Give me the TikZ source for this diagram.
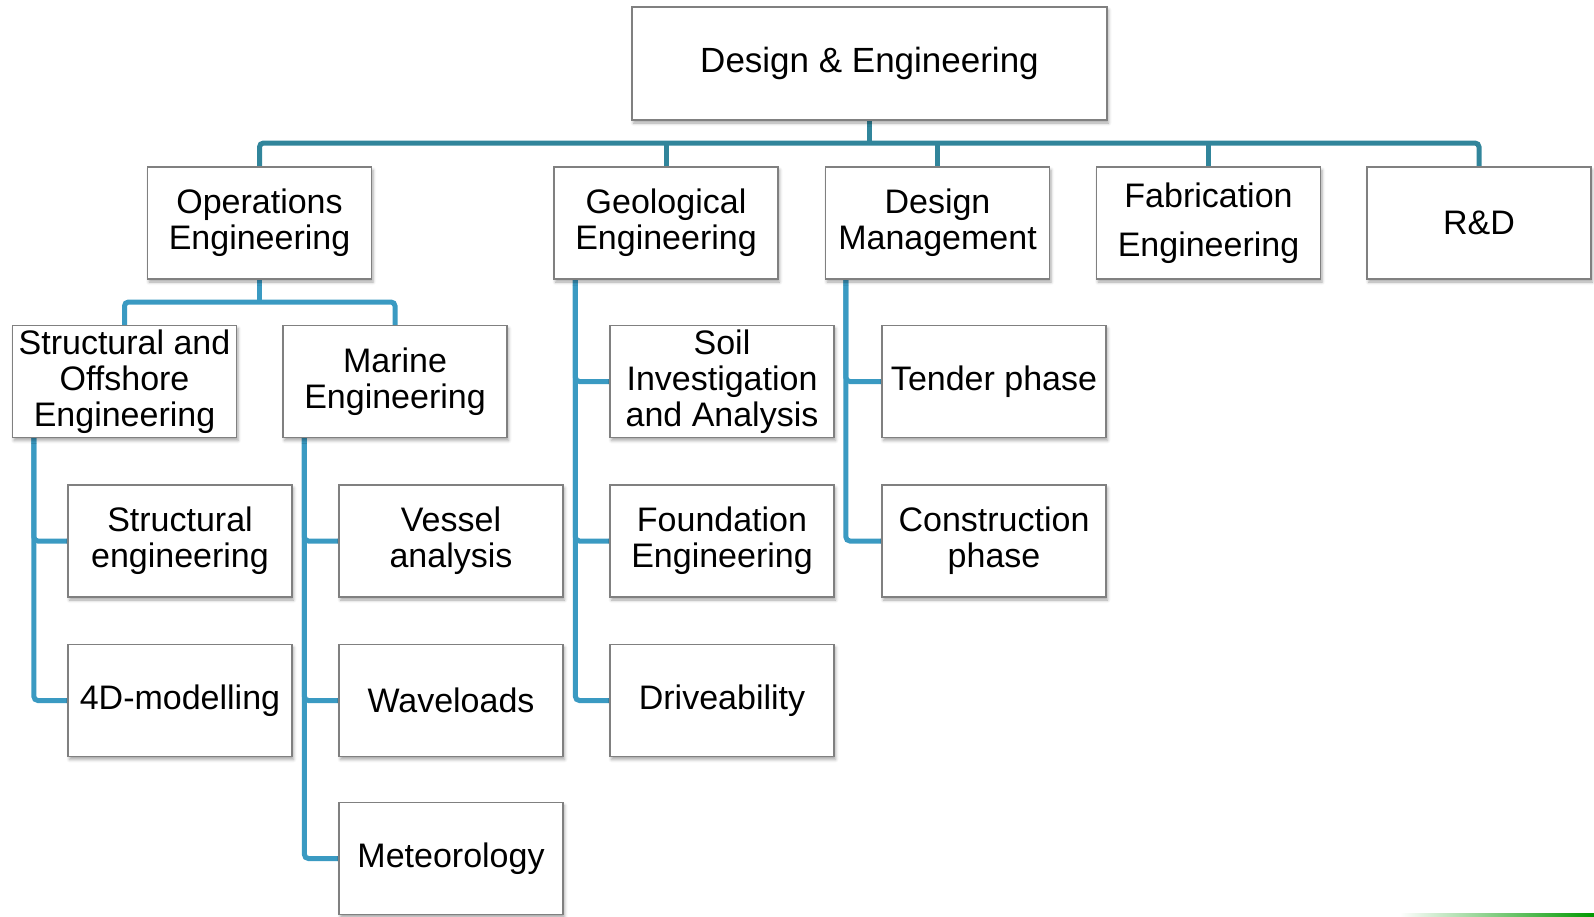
\documentclass[tikz,border=0pt]{standalone}
\usepackage{fontspec}
\setmainfont{Liberation Sans}
\usetikzlibrary{calc,backgrounds,shadows.blur}
\definecolor{bustop}{RGB}{49,133,155}
\definecolor{busleaf}{RGB}{58,154,194}
\definecolor{boxline}{RGB}{128,128,128}
\tikzset{
  orgbox/.style={draw=boxline, line width=1.2pt, fill=white,
    minimum width=224pt, minimum height=112pt, inner sep=0pt,
    align=center, font=\fontsize{34}{36}\selectfont,
    blur shadow={shadow xshift=1.5pt, shadow yshift=-3pt, shadow blur radius=3pt, shadow opacity=35}},
  topbox/.style={orgbox, minimum width=475pt, minimum height=113pt, font=\fontsize{35}{37}\selectfont},
  topline/.style={draw=bustop, line width=5pt, rounded corners=4pt},
  leafline/.style={draw=busleaf, line width=5pt, rounded corners=4pt}
}
\begin{document}
\begin{tikzpicture}[x=1pt,y=-1pt]
\useasboundingbox (0,0) rectangle (1594,916);
% nodes
\node[topbox] (top) at (869.5,63.5) {Design \& Engineering};
\node[orgbox] (ops) at (259.5,223) {Operations\\Engineering};
\node[orgbox] (geo) at (666,223) {Geological\\Engineering};
\node[orgbox] (dm) at (937.5,223) {Design\\Management};
\node[orgbox] (fab) at (1208.5,223) {Fabrication\\[13pt]Engineering};
\node[orgbox] (rd) at (1479,223) {R\&D};
\node[orgbox] (sao) at (124.5,381.5) {Structural and\\Offshore\\Engineering};
\node[orgbox] (marine) at (395,381.5) {Marine\\Engineering};
\node[orgbox] (soil) at (722,381.5) {Soil\\Investigation\\and Analysis};
\node[orgbox] (tender) at (994,381.5) {Tender phase};
\node[orgbox] (se) at (180,541) {Structural\\engineering};
\node[orgbox] (vessel) at (451,541) {Vessel\\analysis};
\node[orgbox] (found) at (722,541) {Foundation\\Engineering};
\node[orgbox] (constr) at (994,541) {Construction\\phase};
\node[orgbox] (d4) at (180,700.5) {4D-modelling};
\node[orgbox] (wave) at (451,700.5) {Waveloads};
\node[orgbox] (drive) at (722,700.5) {Driveability};
\node[orgbox] (met) at (451,858.5) {Meteorology};
% connectors
\begin{scope}[on background layer]
\coordinate (busY) at (0,143);
\draw[topline] (ops.north) -- (ops.north |- busY) -- (rd.north |- busY) -- (rd.north);
\draw[topline] (top.south) -- (top.south |- busY);
\draw[topline] (geo.north) -- (geo.north |- busY);
\draw[topline] (dm.north) -- (dm.north |- busY);
\draw[topline] (fab.north) -- (fab.north |- busY);
\coordinate (opsY) at (0,302);
\draw[leafline] (sao.north) -- (sao.north |- opsY) -- (marine.north |- opsY) -- (marine.north);
\draw[leafline] (ops.south) -- (ops.south |- opsY);
\coordinate (saoX) at ($(sao.south west)+(22,0)$);
\draw[leafline] (saoX) |- (d4.west);
\draw[leafline] (saoX) |- (se.west);
\coordinate (marX) at ($(marine.south west)+(22,0)$);
\draw[leafline] (marX) |- (met.west);
\draw[leafline] (marX) |- (wave.west);
\draw[leafline] (marX) |- (vessel.west);
\coordinate (geoX) at ($(geo.south west)+(22,0)$);
\draw[leafline] (geoX) |- (drive.west);
\draw[leafline] (geoX) |- (found.west);
\draw[leafline] (geoX) |- (soil.west);
\coordinate (dmX) at ($(dm.south west)+(21,0)$);
\draw[leafline] (dmX) |- (constr.west);
\draw[leafline] (dmX) |- (tender.west);
\end{scope}
% faint green edge at bottom right
\shade[left color=white, right color=green!60!black] (1400,913) rectangle (1594,916);
\end{tikzpicture}
\end{document}
